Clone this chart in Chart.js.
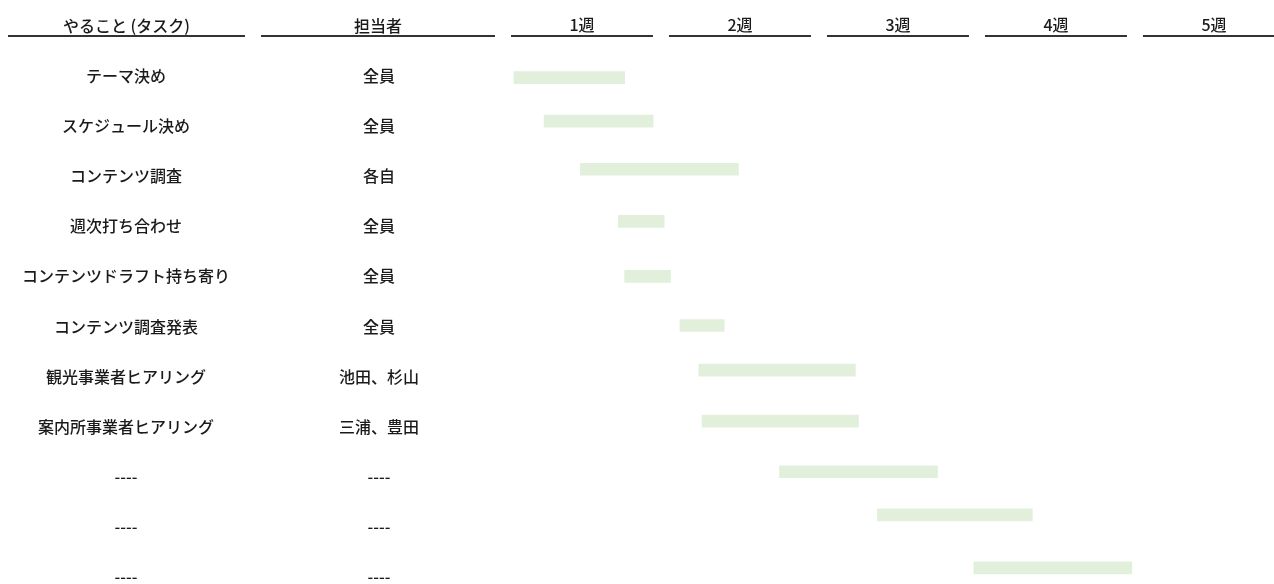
<!DOCTYPE html>
<html>
<head>
<meta charset="utf-8">
<script src="https://cdn.jsdelivr.net/npm/chart.js@4"></script>
<style>
  html, body { margin: 0; padding: 0; background: #fff; overflow: hidden; }
</style>
</head>
<body>
<canvas id="chart" width="1274" height="602"></canvas>
<script>
const columnHeaders = ['やること (タスク)', '担当者'];
const weekLabels = ['1週', '2週', '3週', '4週', '5週'];
const tasks = ['テーマ決め', 'スケジュール決め', 'コンテンツ調査', '週次打ち合わせ', 'コンテンツドラフト持ち寄り',
    'コンテンツ調査発表', '観光事業者ヒアリング', '案内所事業者ヒアリング', '----', '----', '----'];
const owners = ['全員', '全員', '各自', '全員', '全員', '全員', '池田、杉山', '三浦、豊田', '----', '----', '----'];
// start / end in weeks
const starts = [0.07, 0.26, 0.49, 0.73, 0.77, 1.12, 1.24, 1.26, 1.75, 2.37, 2.98];
const ends   = [0.77, 0.95, 1.49, 1.02, 1.06, 1.40, 2.23, 2.25, 2.75, 3.35, 3.98];
// bars sit a little off their row in the original sheet
const barRows = [0.03, 0.90, 1.86, 2.90, 4.00, 4.98, 5.87, 6.89, 7.90, 8.76, 9.82];

const FONT = '"Noto Sans CJK JP", "Noto Sans", sans-serif';
const TEXT = '#1a1a1a';
const ctx = document.getElementById('chart').getContext('2d');

// header row: column titles and the underline under each column
const headerPlugin = {
    id: 'header',
    afterDraw(chart) {
        const c = chart.ctx;
        const xs = chart.scales.x;
        const lineY = xs.bottom - 15;
        const textY = xs.bottom - 25;
        const inset = 8;
        const cols = [
            [chart.scales.y.left, chart.scales.y.right],
            [chart.scales.y2.left, chart.scales.y2.right]
        ];
        c.save();
        c.font = '500 16px ' + FONT;
        c.fillStyle = TEXT;
        c.textAlign = 'center';
        c.textBaseline = 'middle';
        cols.forEach((col, i) => {
            c.fillText(columnHeaders[i], (col[0] + col[1]) / 2, textY);
        });
        weekLabels.forEach((_, i) => {
            cols.push([xs.getPixelForValue(i), Math.min(xs.getPixelForValue(i + 1), chart.width + inset)]);
        });
        c.strokeStyle = '#333';
        c.lineWidth = 2;
        cols.forEach(col => {
            c.beginPath();
            c.moveTo(col[0] + inset, lineY);
            c.lineTo(col[1] - inset, lineY);
            c.stroke();
        });
        c.restore();
    }
};

// fixed width for a left column, no extra padding from its labels
function fixWidth(w) {
    return function (scale) {
        scale.width = w;
        scale.paddingTop = 0;
        scale.paddingBottom = 0;
    };
}

const labelFont = { family: FONT, size: 16, weight: '500' };

new Chart(ctx, {
    type: 'bar',
    data: {
        labels: tasks,
        datasets: [{
            data: starts.map((s, i) => ({ x: [s, ends[i]], y: barRows[i] })),
            backgroundColor: '#e2efda',
            borderWidth: 0,
            barThickness: 12,
            yAxisID: 'yBars'
        }]
    },
    options: {
        indexAxis: 'y',
        responsive: false,
        animation: false,
        layout: { padding: 0 },
        plugins: {
            legend: { display: false },
            tooltip: { enabled: false }
        },
        scales: {
            x: {
                type: 'linear',
                position: 'top',
                min: 0,
                max: 4.88,
                grid: { display: false, drawTicks: false },
                border: { display: false },
                afterFit(scale) {
                    scale.height = 51;
                    scale.paddingLeft = 0;
                    scale.paddingRight = 0;
                },
                afterBuildTicks(scale) {
                    scale.ticks = weekLabels.map((_, i) => ({ value: i + 0.5 }));
                },
                ticks: {
                    autoSkip: false,
                    maxRotation: 0,
                    padding: 16,
                    color: TEXT,
                    font: labelFont,
                    callback: (v, i) => weekLabels[i]
                }
            },
            yBars: {
                type: 'linear',
                axis: 'y',
                position: 'left',
                weight: 0,
                display: false,
                offset: false,
                reverse: true,
                min: -0.5,
                max: tasks.length - 0.5
            },
            y: {
                type: 'category',
                position: 'left',
                weight: 2,
                offset: true,
                grid: { display: false, drawTicks: false },
                border: { display: false },
                afterFit: fixWidth(253),
                ticks: {
                    crossAlign: 'center',
                    padding: 23,
                    color: TEXT,
                    font: labelFont
                }
            },
            y2: {
                type: 'category',
                position: 'left',
                weight: 1,
                labels: owners,
                offset: true,
                grid: { display: false, drawTicks: false },
                border: { display: false },
                afterFit: fixWidth(250),
                ticks: {
                    crossAlign: 'center',
                    padding: 84,
                    color: TEXT,
                    font: labelFont
                }
            }
        }
    },
    plugins: [headerPlugin]
});
</script>
</body>
</html>
